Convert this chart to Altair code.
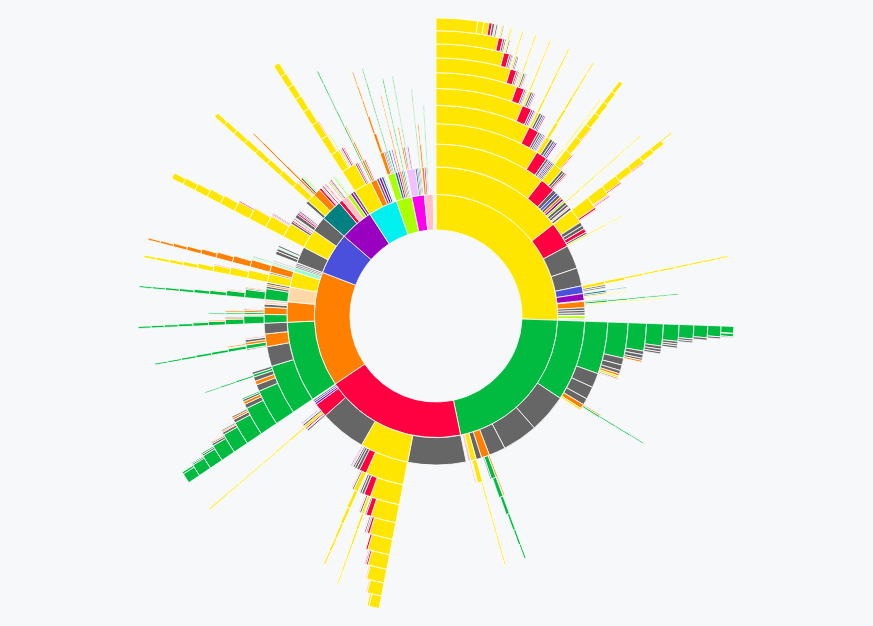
import altair as alt
import pandas as pd

# colour codes of the node categories
CODES = ["Y", "G", "R", "O", "X", "B", "P", "C", "L", "M", "K", "T", "F", "N", "V"]
COLORS = ["#ffe600", "#00bb40", "#ff0040", "#ff8000", "#666666", "#4a50dc", "#9a00c0",
          "#00f0f0", "#aaff00", "#ff00ee", "#ffc0c8", "#008080", "#ffd8a8", "#99ffcc", "#f0c0ff"]


def chain(code, widths, sides=()):
    """A run of same-coloured nodes, one per level; sides[i] = extra children under level i."""
    sides = list(sides)

    def build(i):
        kids = []
        if i + 1 < len(widths):
            kids.append(build(i + 1))
            if i < len(sides):
                kids.extend(sides[i])
        return (code, widths[i], kids)

    return build(0)


# ---------------- yellow branch ----------------
YEL_WIDTHS = [92, 52, 38, 31.7, 26.3, 22.4, 19.4, 16.8, 14.5, 12.7, 8.1]
YEL_SIDES = [
    [("R", 10, [chain("Y", [5, 3.7, 2.8, 2.1, 1.7, 1.5, 1.2, 1.0, 0.3],
                      [[("R", .6), ("K", .4)], [("K", .4), ("R", .3)], [("R", .3)], [("K", .2)], [("R", .2)]]),
                ("X", 1.3), ("X", 1.2), ("R", 1.3), ("X", 0.7), chain("Y", [0.5, 0.4, 0.3])]),
     ("X", 9.2), ("X", 7.1),
     ("B", 3.0, [chain("Y", [1.2, 0.9, 0.6, 0.5, 0.5, 0.45, 0.4, 0.4, 0.35]), ("X", 0.6), ("X", 0.5)]),
     ("P", 2.7, [("T", 0.7, [("T", 0.3)]), ("X", 0.5), ("Y", 0.4, [("Y", 0.3)])]),
     ("_", 0.3),
     ("O", 2.5, [("X", 0.4), chain("G", [0.7, 0.5, 0.4, 0.35, 0.3]), chain("Y", [0.4, 0.3, 0.3, 0.25])]),
     ("X", 1.0), ("X", 1.0), ("X", 0.8), ("_", 0.4), ("L", 1.2),
     ("K", 0.5, [("K", 0.3, [("K", 0.3)])])],
    [("R", 5, [chain("Y", [2.8, 2.2, 1.8, 1.6, 1.4, 1.2, 1.0, 0.8],
                     [[("R", .3), ("K", .2)], [("K", .2)], [("R", .15)]]),
               ("X", 0.8), ("X", 0.6), ("R", 0.4), ("K", 0.4)]),
     ("X", 1.3), ("B", 0.9), ("X", 1.0), ("O", 0.8), ("P", 0.8), ("L", 0.7),
     ("X", 1.0, [chain("Y", [0.4, 0.35, 0.3, 0.3, 0.25, 0.25])]), ("X", 0.9), ("K", 0.6), ("X", 0.8)],
    [("R", 3.4, [chain("Y", [1.2, 0.8, 0.6, 0.5, 0.4, 0.35, 0.3]), ("X", 0.8), ("X", 0.6), ("B", 0.4), ("P", 0.4)]),
     ("X", 0.7), ("B", 0.4), ("X", 0.5), ("P", 0.4),
     ("X", 0.5, [chain("Y", [0.35, 0.3, 0.3, 0.25, 0.25])]), ("X", 0.4)],
    [("R", 2.8, [chain("Y", [0.7, 0.5, 0.45, 0.4, 0.35, 0.3]), ("X", 0.6), ("X", 0.5), ("B", 0.4), ("R", 0.3)]),
     ("X", 0.6), ("X", 0.5), ("B", 0.4), ("X", 0.4), ("P", 0.3), ("K", 0.4)],
    [("R", 2.4, [chain("Y", [0.5, 0.4, 0.35, 0.3, 0.3]), ("X", 0.5), ("X", 0.4), ("P", 0.3), ("K", 0.3)]),
     ("X", 0.5), ("P", 0.4), ("X", 0.3), ("K", 0.3)],
    [("R", 1.9, [chain("Y", [0.4, 0.35, 0.3, 0.3]), ("X", 0.4), ("X", 0.3), ("K", 0.3)]),
     ("X", 0.4), ("X", 0.3), ("B", 0.2), ("K", 0.2)],
    [("R", 1.4, [chain("Y", [0.35, 0.3, 0.3]), ("X", 0.3), ("X", 0.3), ("K", 0.2)]),
     ("X", 0.4), ("X", 0.3), ("K", 0.3), ("B", 0.2)],
    [("R", 1.2, [chain("Y", [0.3, 0.3]), ("X", 0.3), ("K", 0.2)]),
     ("X", 0.4), ("X", 0.3), ("P", 0.2), ("K", 0.2)],
    [("R", 0.9, [("Y", 0.3), ("X", 0.2)]), ("X", 0.4), ("X", 0.3), ("K", 0.2)],
    [("Y", 1.2), ("Y", 1.0), ("R", 0.6), ("X", 0.5), ("K", 0.3), ("X", 0.3)],
]

# ---------------- green branch ----------------
GRN_WIDTHS = [76.3, 31.5, 17.6, 10.7, 7.6, 5.6, 4.0, 3.1, 2.6, 2.2, 1.3]
GRN_SIDES = [
    [("X", 15.2), ("X", 13.8), ("X", 6.5),
     ("O", 3.2, [("O", 0.6, [("O", 0.4)]), chain("G", [1.6, 1.2, 0.9, 0.6, 0.5, 0.4]), ("X", 0.4)]),
     ("X", 2.1),
     ("Y", 2.2, [chain("Y", [1.7, 0.5, 0.45, 0.4, 0.4, 0.35]), ("K", 0.3)]),
     ("K", 1.0, [("K", 0.5, [("K", 0.3)])])],
    [("X", 4.9), ("X", 4.3), ("X", 2.2),
     ("O", 1.5, [("O", 0.4), chain("G", [0.5, 0.4, 0.35, 0.3])]), ("Y", 0.7), ("K", 0.3)],
    [("X", 2.1), ("X", 1.7), ("X", 1.0), ("O", 0.7), ("Y", 0.6), ("X", 0.4), ("K", 0.4)],
    [("X", 1.0), ("X", 1.0), ("X", 0.6), ("O", 0.5)],
    [("X", 0.8), ("X", 0.7), ("X", 0.5)],
    [("X", 0.6), ("X", 0.5), ("X", 0.5)],
    [("X", 0.5), ("X", 0.4)],
    [("X", 0.5)],
    [("X", 0.4)],
    [("_", 0.1), ("G", 0.6), ("X", 0.2)],
]

# ---------------- red branch ----------------
RED_Y_WIDTHS = [19, 13, 9, 7, 6, 5.3, 4.3, 3.8, 3.0, 2.0]
RED_Y_SIDES = [
    [("R", 2.5, [chain("Y", [1.4, 1.0, 0.8, 0.6, 0.5, 0.4]), ("X", 0.5), ("K", 0.4)]),
     ("X", 1.0), ("X", 0.8), ("X", 0.6), ("K", 0.5), ("P", 0.3)],
    [("R", 2.0, [chain("Y", [0.8, 0.6, 0.5, 0.4, 0.35, 0.3]), ("X", 0.5), ("K", 0.4)]),
     ("X", 0.8), ("X", 0.6), ("K", 0.4)],
    [("R", 1.4, [("X", 0.4), ("K", 0.3)]), ("X", 0.4), ("K", 0.2)],
    [("R", 0.6), ("X", 0.3)],
    [("R", 0.5), ("K", 0.2)],
    [("R", 0.4), ("X", 0.3), ("K", 0.3)],
    [("K", 0.3)],
    [("K", 0.3)],
    [("Y", 0.4)],
]
RED_KIDS = [
    ("X", 22.7),
    chain("Y", RED_Y_WIDTHS, RED_Y_SIDES),
    ("X", 18.0),
    ("R", 5.5, [("X", 0.6), ("K", 0.3), ("R", 0.5),
                chain("Y", [0.8, 0.5, 0.4, 0.35, 0.3, 0.3, 0.3, 0.3, 0.3]),
                ("X", 0.6), ("K", 0.4), ("B", 0.3)]),
    ("P", 0.8), ("B", 0.7), ("X", 0.6),
]

# ---------------- orange branch ----------------
ORG_G_WIDTHS = [31.6, 17, 11, 8, 6, 4.8, 3.8, 3.0, 2.5, 2.0]
ORG_G_SIDES = [
    [("X", 6.7),
     ("O", 4.3, [("X", 0.4), chain("G", [1.2, 0.9, 0.7, 0.6, 0.5, 0.4, 0.35]),
                 ("O", 0.8, [("O", 0.4)]), ("X", 0.8), ("K", 0.5)]),
     ("X", 3.6)],
    [("X", 2.0), ("O", 1.2), ("X", 1.3), ("G", 0.8, [chain("G", [0.5, 0.4, 0.3])]), ("X", 0.7)],
    [("X", 1.2), ("O", 0.8), ("X", 0.6), ("G", 0.4)],
    [("X", 0.9), ("O", 0.5), ("X", 0.4)],
    [("X", 0.6), ("O", 0.3), ("X", 0.3)],
    [("X", 0.5), ("X", 0.3), ("O", 0.2)],
    [("X", 0.4), ("G", 0.3)],
    [("X", 0.3), ("G", 0.2)],
    [("G", 0.4)],
]
ORG_KIDS = [
    chain("G", ORG_G_WIDTHS, ORG_G_SIDES),
    ("O", 7.9, [chain("G", [2.9, 2.4, 1.5, 1.0, 0.8, 0.6, 0.5, 0.45, 0.4],
                      [[("O", 0.3), ("K", 0.2)], [("O", 0.4), ("X", 0.3)], [("O", 0.3)], [("G", 0.2)]]),
                ("O", 2.5, [("G", 0.6, [("G", 0.4, [("G", 0.3)])]), ("O", 0.6, [("O", 0.4)]),
                            ("X", 0.4), ("K", 0.3)]),
                ("X", 1.0), ("F", 0.8), ("K", 0.7)]),
    ("F", 5.8, [chain("G", [3.7, 2.5, 1.5, 1.0, 0.8, 0.6, 0.5, 0.4, 0.35],
                      [[("X", 0.4), ("O", 0.3)], [("O", 0.3), ("K", 0.3)], [("O", 0.2)]]),
                ("X", 0.8), ("O", 0.6), ("X", 0.7)]),
    ("Y", 6.0, [chain("Y", [3.0, 2.6, 2.1, 1.7, 1.2, 0.9, 0.7, 0.6, 0.5],
                      [[("K", 0.2)], [("K", 0.3)], [("R", 0.2)]]),
                ("X", 0.5),
                chain("O", [2.5, 2.2, 1.8, 1.5, 1.2, 0.9, 0.7, 0.5, 0.4])]),
    ("N", 1.7, [("N", 0.6, [("N", 0.4, [("N", 0.3)])]), ("G", 0.4, [("G", 0.3)]), ("K", 0.3), ("X", 0.3)]),
    ("X", 0.6), ("X", 0.6), ("X", 0.6),
]

# ---------------- smaller branches ----------------
BLUE_KIDS = [
    ("X", 6.5, [("X", 1.2), ("X", 0.9), ("N", 0.5), ("X", 0.6)]),
    chain("Y", [7.5, 5, 3.8, 3.3, 2.6, 2.2, 1.9, 1.6, 1.4, 1.2],
          [[("X", 0.8), ("R", 0.5), ("K", 0.4), ("X", 0.4)], [("K", 0.4), ("R", 0.3), ("X", 0.3)],
           [("K", 0.3)], [("R", 0.3)], [("K", 0.2)]]),
    ("X", 6.0, [("X", 1.2), ("R", 0.6), ("B", 0.4), ("X", 0.5), ("K", 0.4)]),
]
PURPLE_KIDS = [
    ("T", 8.5, [("X", 1.0),
                chain("Y", [2.8, 2.0, 1.6, 1.4, 1.3, 1.2, 1.1, 1.0, 0.9], [[("K", 0.3), ("O", 0.3)], [("K", 0.2)]]),
                ("O", 2.5, [chain("O", [0.6, 0.5, 0.4, 0.4, 0.3]), ("X", 0.6), ("N", 0.4), ("L", 0.3)]),
                ("R", 0.8), ("K", 0.6), ("X", 0.5)]),
    ("R", 1.5, [("K", 0.4), ("R", 0.3)]),
    ("K", 2.5, [("K", 0.6), ("L", 0.5), ("P", 0.4)]),
    ("L", 1.5, [("L", 0.5), ("N", 0.4)]),
    ("P", 1.0), ("X", 1.0),
]
CYAN_KIDS = [
    chain("Y", [7, 5, 2.5, 2.0, 1.8, 1.6, 1.5, 1.4, 1.3, 1.2],
          [[("X", 0.6), ("R", 0.5), ("K", 0.5)],
           [("L", 0.5, [("L", 0.3)]), ("K", 0.6), ("P", 0.5), ("O", 0.4)],
           [("K", 0.3)], [("R", 0.2)]]),
    ("O", 2.5, [chain("G", [0.5, 0.45, 0.4, 0.35, 0.3, 0.3, 0.3]), ("O", 0.8, [("O", 0.5, [("O", 0.3)])]),
                ("X", 0.5), ("K", 0.4)]),
    ("X", 1.0), ("P", 1.0), ("T", 0.9), ("K", 0.6),
]
LIME_KIDS = [
    ("L", 3.0, [("O", 1.4, [chain("O", [0.9, 0.6, 0.4, 0.35, 0.3])]), ("X", 0.5), ("P", 0.4),
                chain("G", [0.4, 0.35, 0.3, 0.3, 0.3, 0.25])]),
    ("T", 1.0, [("T", 0.5)]), ("P", 0.8, [("P", 0.4)]),
    ("O", 0.8, [chain("O", [0.5, 0.4, 0.3, 0.3])]), ("X", 0.6),
    ("G", 0.6, [chain("G", [0.4, 0.35, 0.3, 0.3, 0.3])]), ("K", 0.5),
]
MAGENTA_KIDS = [
    ("V", 3.5, [("O", 0.6, [("O", 0.4)]), ("X", 0.5), chain("G", [0.3, 0.3, 0.25, 0.25, 0.25]),
                ("K", 0.5), ("P", 0.4)]),
    ("T", 0.7), ("P", 0.5), ("X", 0.5), ("G", 0.4, [chain("G", [0.3, 0.3, 0.25, 0.25])]),
]
PINK_KIDS = [
    ("O", 1.0, [("O", 0.6, [("O", 0.4)])]), ("P", 0.6), ("X", 0.4),
    ("G", 0.4, [chain("G", [0.3, 0.3, 0.25])]), ("L", 0.3), ("K", 0.4),
]

BRANCHES = [
    chain("Y", YEL_WIDTHS, YEL_SIDES),
    chain("G", GRN_WIDTHS, GRN_SIDES),
    ("R", 67.7, RED_KIDS),
    ("O", 55, ORG_KIDS),
    ("B", 20, BLUE_KIDS),
    ("P", 16, PURPLE_KIDS),
    ("C", 14, CYAN_KIDS),
    ("L", 7.5, LIME_KIDS),
    ("M", 6, MAGENTA_KIDS),
    ("K", 4.2, PINK_KIDS),
    ("X", 0.3), ("O", 0.3), ("G", 0.3), ("Y", 0.3),
]

rows = []


def lay(n, depth, start):
    code, size = n[0], n[1]
    kids = n[2] if len(n) == 3 else []
    if code != "_":
        rows.append({"code": code, "start": start, "end": start + size, "r0": depth, "r1": depth + 1})
    cur = start
    for k in kids:
        lay(k, depth + 1, cur)
        cur += k[1]


cur = 0.0
for b in BRANCHES:
    lay(b, 1, cur)
    cur += b[1]

df = pd.DataFrame(rows)

chart = alt.Chart(df).mark_arc(stroke="white", strokeWidth=0.8).encode(
    x=alt.value(436),
    y=alt.value(316),
    theta=alt.Theta("start:Q", scale=alt.Scale(domain=[0, 360], range=[0, 6.283185307179586]), stack=None),
    theta2="end:Q",
    radius=alt.Radius("r0:Q", scale=alt.Scale(type="sqrt", domain=[0, 12], range=[0, 298])),
    radius2="r1:Q",
    color=alt.Color("code:N", scale=alt.Scale(domain=CODES, range=COLORS), legend=None),
).properties(
    width=873, height=626, background="#f7f8fa", padding=0, autosize="none"
).configure_view(stroke=None)

chart.save("out.html", embed_options={"renderer": "svg", "actions": False})
